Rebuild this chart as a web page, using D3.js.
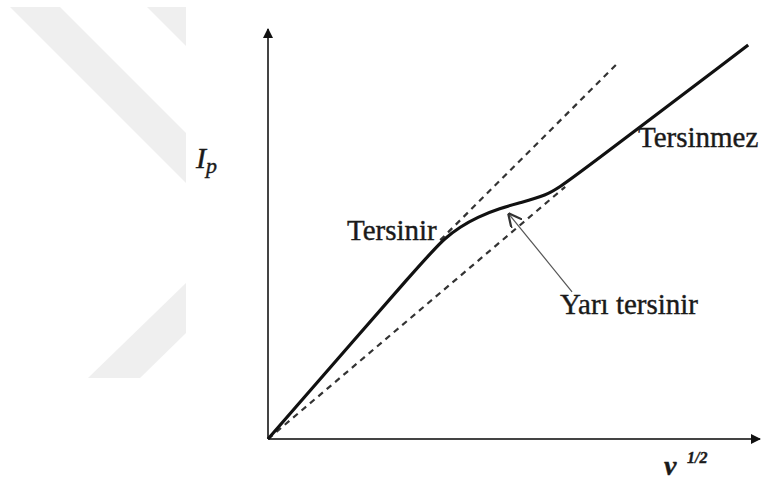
<!DOCTYPE html>
<html>
<head>
<meta charset="utf-8">
<script src="https://cdn.jsdelivr.net/npm/d3@7"></script>
<style>
  body { margin: 0; background: #fff; }
</style>
</head>
<body>
<div id="chart"></div>
<script>
// current vs sqrt(scan rate) (arbitrary units 0..100)
const solidX = [0, 32.9, 36.0, 39.0, 42.5, 47.2, 51.2, 56.7, 59.3, 62.8, 97.6];
const solidY = [0, 45.4, 49.0, 51.7, 54.1, 56.3, 57.6, 59.5, 61.5, 64.4, 96.1];
const reversibleX = [35.0, 71.1];
const reversibleY = [48.5, 91.7];
const irreversibleX = [0, 60.4];
const irreversibleY = [0, 61.5];
const pointerX = [61.8, 48.8];
const pointerY = [35.9, 55.1];
const labels = ["Tersinir", "Tersinmez", "Yarı tersinir"];

const width = 762, height = 482;
const origin = {x: 268, y: 439};
const serif = '"Liberation Serif", "Times New Roman", serif';

const svg = d3.select("#chart").append("svg")
    .attr("width", width)
    .attr("height", height)
    .style("font-family", serif);

const defs = svg.append("defs");
defs.append("marker")
    .attr("id", "axis-arrow")
    .attr("viewBox", "0 0 10 10")
    .attr("refX", 9).attr("refY", 5)
    .attr("markerWidth", 5).attr("markerHeight", 5)
    .attr("markerUnits", "strokeWidth")
    .attr("orient", "auto")
  .append("path")
    .attr("d", "M0,0 L10,5 L0,10 Z")
    .attr("fill", "#111");
defs.append("marker")
    .attr("id", "open-arrow")
    .attr("viewBox", "0 0 10 10")
    .attr("refX", 10).attr("refY", 5)
    .attr("markerWidth", 14).attr("markerHeight", 14)
    .attr("markerUnits", "userSpaceOnUse")
    .attr("orient", "auto")
  .append("path")
    .attr("d", "M0,0 L10,5 L0,10")
    .attr("fill", "none")
    .attr("stroke", "#333")
    .attr("stroke-width", 1.6);

// faint watermark on the left
const watermark = [
    [[10, 7], [60, 7], [186, 133], [186, 183]],
    [[147, 7], [186, 7], [186, 46]],
    [[88, 378], [140, 378], [186, 333], [186, 283]]
];
svg.append("g").selectAll("polygon")
    .data(watermark)
    .join("polygon")
    .attr("points", d => d.map(p => p.join(",")).join(" "))
    .attr("fill", "#efefef");

const x = d3.scaleLinear().domain([0, 100]).range([origin.x, 760]);
const y = d3.scaleLinear().domain([0, 100]).range([origin.y, 29]);

// axes
svg.append("line")
    .attr("x1", x(0)).attr("y1", y(0))
    .attr("x2", x(100)).attr("y2", y(0))
    .attr("stroke", "#444").attr("stroke-width", 2)
    .attr("marker-end", "url(#axis-arrow)");
svg.append("line")
    .attr("x1", x(0)).attr("y1", y(0))
    .attr("x2", x(0)).attr("y2", y(100))
    .attr("stroke", "#444").attr("stroke-width", 2)
    .attr("marker-end", "url(#axis-arrow)");

const toPoints = (xs, ys) => xs.map((v, i) => [v, ys[i]]);

const straight = d3.line().x(d => x(d[0])).y(d => y(d[1]));
const smooth = d3.line().x(d => x(d[0])).y(d => y(d[1])).curve(d3.curveBasis);

svg.append("path")
    .attr("d", straight(toPoints(reversibleX, reversibleY)))
    .attr("fill", "none")
    .attr("stroke", "#333").attr("stroke-width", 2.2)
    .attr("stroke-dasharray", "6,5");

svg.append("path")
    .attr("d", straight(toPoints(irreversibleX, irreversibleY)))
    .attr("fill", "none")
    .attr("stroke", "#333").attr("stroke-width", 2.2)
    .attr("stroke-dasharray", "6,5");

svg.append("path")
    .attr("d", smooth(toPoints(solidX, solidY)))
    .attr("fill", "none")
    .attr("stroke", "#111").attr("stroke-width", 3.2)
    .attr("stroke-linejoin", "round");

// pointer to the quasi-reversible region
svg.append("line")
    .attr("x1", x(pointerX[0])).attr("y1", y(pointerY[0]))
    .attr("x2", x(pointerX[1])).attr("y2", y(pointerY[1]))
    .attr("stroke", "#555").attr("stroke-width", 1.2)
    .attr("marker-end", "url(#open-arrow)");

// region labels
const labelPos = [[347, 240], [638, 147], [560, 314]];
svg.append("g").selectAll("text")
    .data(labels)
    .join("text")
    .attr("x", (d, i) => labelPos[i][0])
    .attr("y", (d, i) => labelPos[i][1])
    .style("font-family", serif)
    .attr("font-size", 29)
    .attr("fill", "#1a1a1a")
    .attr("stroke", "#1a1a1a")
    .attr("stroke-width", 0.4)
    .text(d => d);

// axis titles
const yTitle = svg.append("text")
    .attr("x", 196).attr("y", 168)
    .style("font-family", serif)
    .attr("font-size", 30)
    .attr("font-style", "italic")
    .attr("fill", "#1a1a1a")
    .attr("stroke", "#1a1a1a")
    .attr("stroke-width", 0.4);
yTitle.append("tspan").text("I");
yTitle.append("tspan")
    .attr("dy", 5)
    .attr("font-size", 22)
    .text("p");

const xTitle = svg.append("text")
    .attr("x", 664).attr("y", 475)
    .style("font-family", serif)
    .attr("font-style", "italic")
    .attr("fill", "#1a1a1a")
    .attr("stroke", "#1a1a1a")
    .attr("stroke-width", 0.4);
xTitle.append("tspan")
    .attr("font-size", 28)
    .attr("font-weight", "bold")
    .text("v");
xTitle.append("tspan")
    .attr("x", 687).attr("y", 463)
    .attr("font-size", 16)
    .attr("font-weight", "bold")
    .text("1/2");
</script>
</body>
</html>
